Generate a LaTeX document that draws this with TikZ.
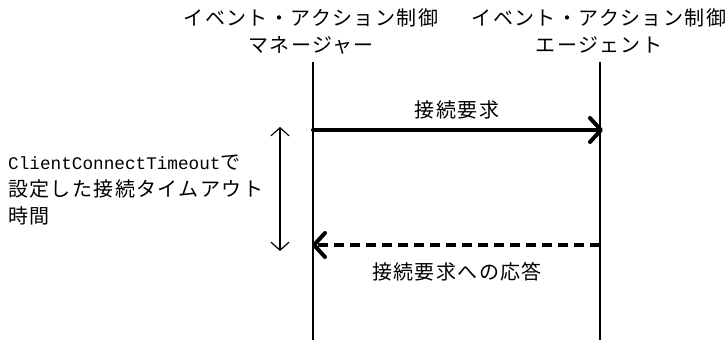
\documentclass[tikz,border=0pt]{standalone}
\usepackage{fontspec}
\newfontfamily\jpfont[LetterSpace=7]{Noto Sans CJK JP}
\newfontfamily\monofont{Liberation Mono}
\usetikzlibrary{arrows.meta}
\begin{document}
\begin{tikzpicture}[x=1pt,y=-1pt,
  jptext/.style={font=\jpfont\fontsize{20}{27}\selectfont, inner sep=0pt},
  lifeline/.style={line width=1.5pt},
  msgline/.style={line width=4pt, line cap=round,
    -{Straight Barb[length=11pt,width=24pt,line width=4pt,round]}},
  retline/.style={line width=4pt, dash pattern=on 10pt off 6pt,
    -{Straight Barb[length=11pt,width=24pt,line width=4pt,round]}},
  spanline/.style={line width=1.2pt,
    {Straight Barb[length=8pt,width=18pt,line width=1.2pt]}-{Straight Barb[length=8pt,width=18pt,line width=1.2pt]}}]
\useasboundingbox (0,0) rectangle (728,340);
\fill[white] (0,0) rectangle (728,340);

\node[jptext, align=center] (hm) at (311,31) {イベント・アクション制御\\マネージャー};
\node[jptext, align=center] (ha) at (599,31) {イベント・アクション制御\\エージェント};

\coordinate (mtop) at (313,62);
\coordinate (mbot) at (313,340);
\coordinate (atop) at (600,62);
\coordinate (abot) at (600,340);
\draw[lifeline] (mtop) -- (mbot);
\draw[lifeline] (atop) -- (abot);

\coordinate (req1) at (313,130);
\coordinate (req2) at (603,130);
\draw[msgline] (req1) -- (req2);
\node[jptext] (reqlbl) at (457,110) {接続要求};

\coordinate (res1) at (600,245);
\coordinate (res2) at (312,245);
\draw[retline] (res1) -- (res2);
\node[jptext] (reslbl) at (457,272) {接続要求への応答};

\coordinate (sp1) at (280,127);
\coordinate (sp2) at (280,251);
\draw[spanline] (sp1) -- (sp2);

\node[jptext, anchor=west, align=left] (note) at (8,190)
  {{\monofont\fontsize{17.7}{27}\selectfont ClientConnectTimeout}で\\設定した接続タイムアウト\\時間};
\end{tikzpicture}
\end{document}
